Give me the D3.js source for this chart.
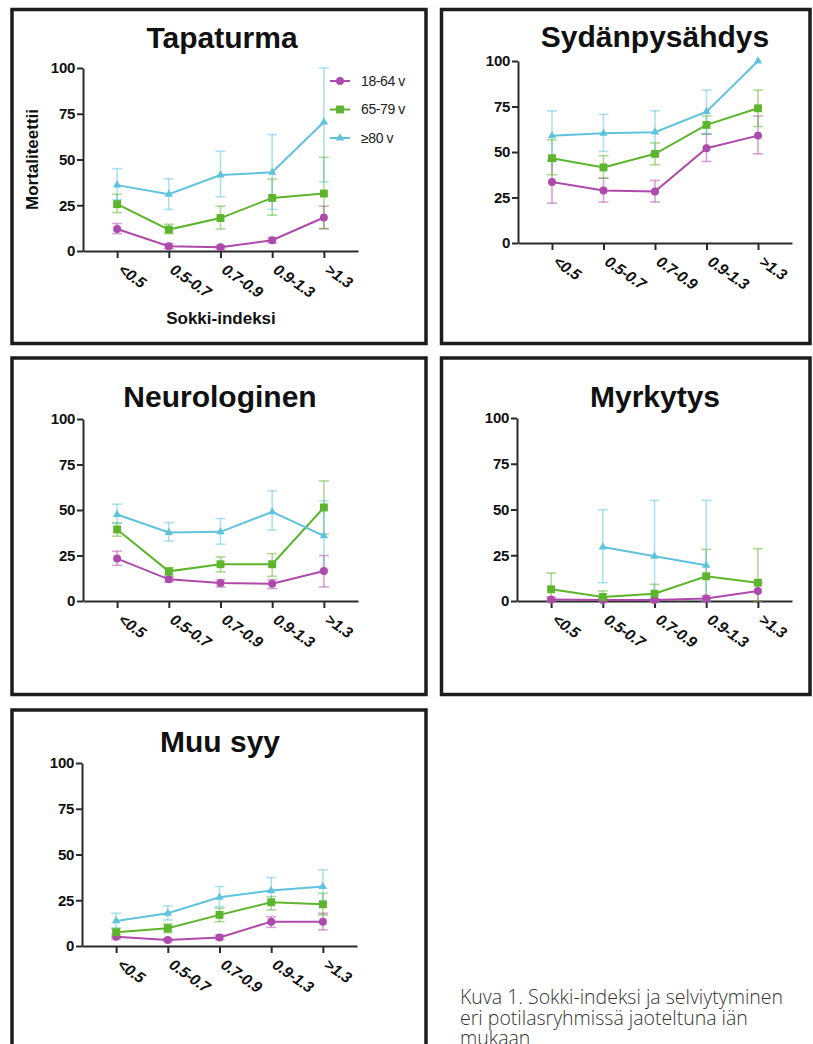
<!DOCTYPE html>
<html>
<head>
<meta charset="utf-8">
<script src="https://cdn.jsdelivr.net/npm/d3@7"></script>
<style>
  html, body { margin: 0; padding: 0; background: #fff; }
  svg { display: block; }
  text { font-family: "Liberation Sans", Arial, Helvetica, sans-serif; }
</style>
</head>
<body>
<script>
// ---------- DATA ----------
const categories = ["<0.5", "0.5-0.7", "0.7-0.9", "0.9-1.3", ">1.3"];
const seriesNames = ["18-64 v", "65-79 v", "≥80 v"];
const yTicks = [0, 25, 50, 75, 100];
const panelTitles = ["Tapaturma", "Sydänpysähdys", "Neurologinen", "Myrkytys", "Muu syy"];
const yAxisTitle = "Mortaliteettii";
const xAxisTitle = "Sokki-indeksi";
const captionLines = ["Kuva 1. Sokki-indeksi ja selviytyminen", "eri potilasryhmissä jaoteltuna iän", "mukaan"];

// Tapaturma
const tap_1864    = [12, 2.6, 2, 5.9, 18.3];
const tap_1864_lo = [9.5, 1.3, 1, 4.4, 12.2];
const tap_1864_hi = [15, 4, 3, 7.3, 24.5];
const tap_6579    = [25.6, 11.7, 18, 29, 31.4];
const tap_6579_lo = [21, 9.5, 12, 19.6, 12.2];
const tap_6579_hi = [31, 14.6, 24.5, 39.3, 51.2];
const tap_80      = [36, 31, 41.5, 43, 70.5];
const tap_80_lo   = [28, 22.7, 29.6, 22.7, 37.8];
const tap_80_hi   = [45, 39.5, 54.5, 63.6, 100];

// Sydänpysähdys
const syd_1864    = [33.5, 28.9, 28.3, 52.1, 59];
const syd_1864_lo = [21.9, 22.5, 22.5, 44.8, 49];
const syd_1864_hi = [45.5, 35.6, 34.4, 59.8, 69.8];
const syd_6579    = [46.6, 41.5, 49, 64.9, 74];
const syd_6579_lo = [37.5, 35.6, 43, 60, 64];
const syd_6579_hi = [56.7, 48, 55, 69.8, 84];
const syd_80      = [58.9, 60.3, 60.9, 72.2, 100];
const syd_80_lo   = [45, 50.3, 49.5, 60, null];
const syd_80_hi   = [72.6, 70.7, 72.6, 84, null];

// Neurologinen
const neu_1864    = [23.3, 11.9, 9.9, 9.5, 16.5];
const neu_1864_lo = [19.6, 10.5, 7.7, 6.8, 7.7];
const neu_1864_hi = [27.3, 13.2, 11.7, 11.7, 25];
const neu_6579    = [39.3, 16.3, 20.2, 20.2, 51.4];
const neu_6579_lo = [35.6, 14, 16, 13.6, 36.7];
const neu_6579_hi = [43, 18.3, 24.2, 26, 66];
const neu_80      = [47.5, 37.6, 38, 49, 35.8];
const neu_80_lo   = [42.6, 33, 31.2, 38.9, 16.9];
const neu_80_hi   = [53.2, 43.1, 45.3, 60.6, 55];

// Myrkytys
const myr_1864    = [0.8, 0.6, 0.5, 1.4, 5.5];
const myr_1864_lo = [0, 0, 0, 0, 0];
const myr_1864_hi = [2, 1.5, 1.2, 3, 10];
const myr_6579    = [6.4, 2.2, 4, 13.5, 10];
const myr_6579_lo = [0, 0, 0, 1, 0];
const myr_6579_hi = [15.3, 5.5, 9.1, 28.2, 28.6];
const myr_80      = [null, 29.5, 24.4, 19.5, null];
const myr_80_lo   = [null, 10, 0, 0, null];
const myr_80_hi   = [null, 49.9, 55, 55, null];

// Muu syy
const muu_1864    = [5.1, 3.3, 4.7, 13.3, 13.3];
const muu_1864_lo = [3.8, 2.4, 3.6, 10.2, 8.8];
const muu_1864_hi = [6.2, 4.2, 6, 16, 17.9];
const muu_6579    = [7.5, 9.7, 17, 23.9, 22.8];
const muu_6579_lo = [5.1, 7.3, 13.3, 19.7, 17];
const muu_6579_hi = [9.7, 12, 20.6, 27, 28.8];
const muu_80      = [13.7, 17.9, 26.6, 30.3, 32.5];
const muu_80_lo   = [9.7, 14.2, 21.5, 23.7, 23.4];
const muu_80_hi   = [17.9, 21.9, 32.5, 37.4, 41.6];

// ---------- ASSEMBLY ----------
const panelData = [
  [[tap_1864, tap_1864_lo, tap_1864_hi], [tap_6579, tap_6579_lo, tap_6579_hi], [tap_80, tap_80_lo, tap_80_hi]],
  [[syd_1864, syd_1864_lo, syd_1864_hi], [syd_6579, syd_6579_lo, syd_6579_hi], [syd_80, syd_80_lo, syd_80_hi]],
  [[neu_1864, neu_1864_lo, neu_1864_hi], [neu_6579, neu_6579_lo, neu_6579_hi], [neu_80, neu_80_lo, neu_80_hi]],
  [[myr_1864, myr_1864_lo, myr_1864_hi], [myr_6579, myr_6579_lo, myr_6579_hi], [myr_80, myr_80_lo, myr_80_hi]],
  [[muu_1864, muu_1864_lo, muu_1864_hi], [muu_6579, muu_6579_lo, muu_6579_hi], [muu_80, muu_80_lo, muu_80_hi]]
];

// ---------- LAYOUT ----------
const W = 813, H = 1044;
const colors = ["#ad4aab", "#5cb52c", "#5fc3dd"];
const symbols = [d3.symbolCircle, d3.symbolSquare, d3.symbolTriangle];
const symSizes = [50, 62, 30];

const layout = [
  { box: [12, 9.5, 426, 343.5],  plot: [83, 358, 68, 251],   title: [222, 48] },
  { box: [441.5, 9.5, 810, 343.5], plot: [518, 792, 61, 243], title: [655, 47] },
  { box: [12, 358, 426, 694.5], plot: [83, 358, 419, 601],   title: [220, 407] },
  { box: [441.5, 358, 810, 694.5], plot: [517, 792, 418, 601], title: [655, 407] },
  { box: [12, 710, 426, 1070],  plot: [82, 357, 763, 946],   title: [220, 752] }
];

const svg = d3.select("body").append("svg").attr("width", W).attr("height", H);
svg.append("rect").attr("width", W).attr("height", H).attr("fill", "#fff");

layout.forEach((lay, pi) => {
  const g = svg.append("g");
  const [bx0, by0, bx1, by1] = lay.box;
  g.append("rect")
    .attr("x", bx0).attr("y", by0)
    .attr("width", bx1 - bx0).attr("height", by1 - by0)
    .attr("fill", "none").attr("stroke", "#1c1c1c").attr("stroke-width", 3.5);

  const [L, R, T, B] = lay.plot;
  const x = d3.scalePoint().domain(categories).range([L, R]).padding(0.66);
  const y = d3.scaleLinear().domain([0, 100]).range([B, T]);

  // title
  g.append("text")
    .attr("x", lay.title[0]).attr("y", lay.title[1])
    .attr("text-anchor", "middle")
    .attr("font-size", 30).attr("font-weight", "bold")
    .attr("fill", "#111")
    .text(panelTitles[pi]);

  // y axis
  const ya = g.append("g").attr("transform", `translate(${L},0)`)
    .call(d3.axisLeft(y).tickValues(yTicks).tickSize(6).tickSizeOuter(0).tickPadding(2));
  ya.attr("font-size", null).attr("font-family", null);
  ya.select(".domain").attr("stroke", "#2a2a2a").attr("stroke-width", 2);
  ya.selectAll(".tick line").attr("stroke", "#2a2a2a").attr("stroke-width", 2);
  ya.selectAll(".tick text")
    .style("font-size", "15px").style("font-weight", "bold").attr("fill", "#111")
    .style("letter-spacing", "-0.3px");

  // x axis
  const xa = g.append("g").attr("transform", `translate(0,${B})`)
    .call(d3.axisBottom(x).tickSize(7).tickSizeOuter(0));
  xa.attr("font-size", null).attr("font-family", null);
  xa.select(".domain").attr("stroke", "#2a2a2a").attr("stroke-width", 2);
  xa.selectAll(".tick line").attr("stroke", "#2a2a2a").attr("stroke-width", 2);
  xa.selectAll(".tick text")
    .attr("x", 0).attr("y", 0).attr("dy", "0.71em")
    .attr("text-anchor", "start")
    .attr("transform", "translate(6,12) rotate(35)")
    .style("font-size", "15.5px").style("font-weight", "bold").style("font-style", "italic")
    .attr("fill", "#111").style("letter-spacing", "-0.4px");

  // error bars
  const data = panelData[pi];
  data.forEach((s, si) => {
    const [vals, lo, hi] = s;
    const pts = categories.map((c, i) => ({ c, v: vals[i], lo: lo[i], hi: hi[i] }));
    const col = colors[si];
    const eb = g.append("g").attr("stroke", col).attr("stroke-opacity", 0.5).attr("stroke-width", 1.6);
    pts.filter(p => p.v != null && p.lo != null && p.hi != null).forEach(p => {
      const cx = x(p.c);
      eb.append("line").attr("x1", cx).attr("x2", cx).attr("y1", y(p.lo)).attr("y2", y(p.hi));
      eb.append("line").attr("x1", cx - 5).attr("x2", cx + 5).attr("y1", y(p.hi)).attr("y2", y(p.hi));
      eb.append("line").attr("x1", cx - 5).attr("x2", cx + 5).attr("y1", y(p.lo)).attr("y2", y(p.lo));
    });
  });

  // lines + markers
  data.forEach((s, si) => {
    const [vals] = s;
    const pts = categories.map((c, i) => ({ c, v: vals[i] }));
    const col = colors[si];
    const line = d3.line().defined(p => p.v != null).x(p => x(p.c)).y(p => y(p.v));
    g.append("path").datum(pts).attr("d", line)
      .attr("fill", "none").attr("stroke", col).attr("stroke-width", 2);
    g.selectAll(null).data(pts.filter(p => p.v != null)).enter().append("path")
      .attr("transform", p => `translate(${x(p.c)},${y(p.v)})`)
      .attr("d", d3.symbol().type(symbols[si]).size(symSizes[si]))
      .attr("fill", col);
  });

  if (pi === 0) {
    g.append("text")
      .attr("transform", `translate(38,${(T + B) / 2}) rotate(-90)`)
      .attr("text-anchor", "middle")
      .attr("font-size", 17).attr("font-weight", "bold").attr("fill", "#111")
      .text(yAxisTitle);
    g.append("text")
      .attr("x", 221).attr("y", 324)
      .attr("text-anchor", "middle")
      .attr("font-size", 17).attr("font-weight", "bold").attr("fill", "#111")
      .text(xAxisTitle);
    const lg = g.append("g");
    const ly = d3.scalePoint().domain(seriesNames).range([81, 138]);
    seriesNames.forEach((nm, si) => {
      const yy = ly(nm);
      lg.append("line").attr("x1", 330).attr("x2", 350).attr("y1", yy).attr("y2", yy)
        .attr("stroke", colors[si]).attr("stroke-width", 2);
      lg.append("path").attr("transform", `translate(340,${yy})`)
        .attr("d", d3.symbol().type(symbols[si]).size(symSizes[si])).attr("fill", colors[si]);
      lg.append("text").attr("x", 361).attr("y", yy).attr("dy", "0.35em")
        .attr("font-size", 14).attr("fill", "#222").attr("letter-spacing", "-0.4")
        .text(nm);
    });
  }
});

// caption
const cap = svg.append("text")
  .style("font-family", "'Open Sans', 'Noto Sans', sans-serif")
  .style("font-weight", 300)
  .attr("font-size", 19.5).attr("fill", "#333");
captionLines.forEach((t, i) => {
  cap.append("tspan").attr("x", 460).attr("y", 1004 + i * 20.5).text(t);
});
</script>
</body>
</html>
